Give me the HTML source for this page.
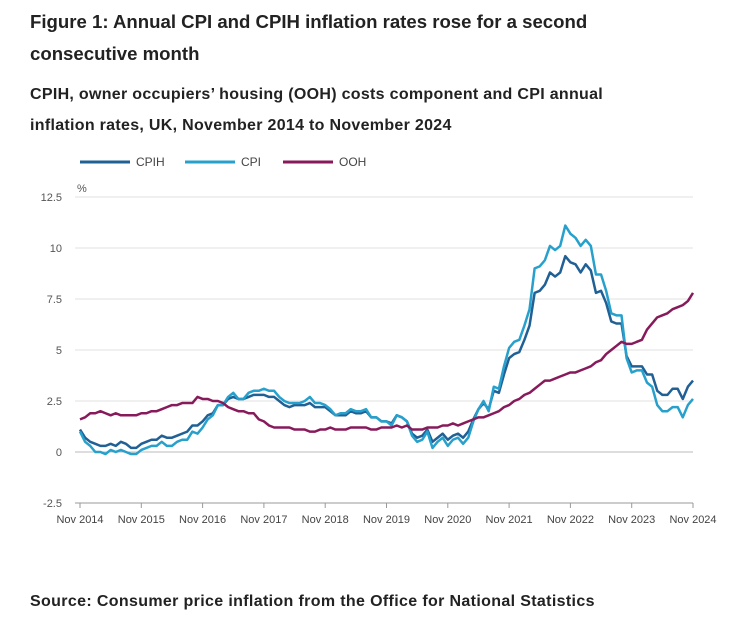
<!DOCTYPE html>
<html><head><meta charset="utf-8"><style>
body{margin:0;width:749px;height:617px;background:#fff;font-family:"Liberation Sans",sans-serif;color:#222;overflow:hidden;position:relative}
.t{position:absolute;left:30px;font-weight:bold;margin:0}
</style></head><body>
<h1 class="t" style="top:6px;font-size:18.6px;line-height:32px;width:595px;letter-spacing:0px">Figure 1: Annual CPI and CPIH inflation rates rose for a second consecutive month</h1>
<h2 class="t" style="top:79px;font-size:16px;line-height:31px;width:580px;letter-spacing:0.3px">CPIH, owner occupiers’ housing (OOH) costs component and CPI annual inflation rates, UK, November 2014 to November 2024</h2>
<svg id="c" width="749" height="617" style="position:absolute;left:0;top:0;font-family:'Liberation Sans',sans-serif"></svg>
<p class="t" style="top:593px;font-size:16px;letter-spacing:0.35px">Source: Consumer price inflation from the Office for National Statistics</p>
<script>
const xLabels=["Nov 2014","Nov 2015","Nov 2016","Nov 2017","Nov 2018","Nov 2019","Nov 2020","Nov 2021","Nov 2022","Nov 2023","Nov 2024"];
const yTicks=[-2.5,0,2.5,5,7.5,10,12.5];
const cpih=[1.1,0.7,0.5,0.4,0.3,0.3,0.4,0.3,0.5,0.4,0.2,0.2,0.4,0.5,0.6,0.6,0.8,0.7,0.7,0.8,0.9,1.0,1.3,1.3,1.5,1.8,1.9,2.3,2.3,2.6,2.7,2.6,2.6,2.7,2.8,2.8,2.8,2.7,2.7,2.5,2.3,2.2,2.3,2.3,2.3,2.4,2.2,2.2,2.2,2.0,1.8,1.8,1.8,2.0,1.9,1.9,2.0,1.7,1.7,1.5,1.5,1.4,1.8,1.7,1.5,0.9,0.7,0.8,1.1,0.5,0.7,0.9,0.6,0.8,0.9,0.7,1.0,1.6,2.1,2.4,2.1,3.0,2.9,3.8,4.6,4.8,4.9,5.5,6.2,7.8,7.9,8.2,8.8,8.6,8.8,9.6,9.3,9.2,8.8,9.2,8.9,7.8,7.9,7.3,6.4,6.3,6.3,4.7,4.2,4.2,4.2,3.8,3.8,3.0,2.8,2.8,3.1,3.1,2.6,3.2,3.5];
const cpi=[1.0,0.5,0.3,0.0,0.0,-0.1,0.1,0.0,0.1,0.0,-0.1,-0.1,0.1,0.2,0.3,0.3,0.5,0.3,0.3,0.5,0.6,0.6,1.0,0.9,1.2,1.6,1.8,2.3,2.3,2.7,2.9,2.6,2.6,2.9,3.0,3.0,3.1,3.0,3.0,2.7,2.5,2.4,2.4,2.4,2.5,2.7,2.4,2.4,2.3,2.1,1.8,1.9,1.9,2.1,2.0,2.0,2.1,1.7,1.7,1.5,1.5,1.3,1.8,1.7,1.5,0.8,0.5,0.6,1.0,0.2,0.5,0.7,0.3,0.6,0.7,0.4,0.7,1.5,2.1,2.5,2.0,3.2,3.1,4.2,5.1,5.4,5.5,6.2,7.0,9.0,9.1,9.4,10.1,9.9,10.1,11.1,10.7,10.5,10.1,10.4,10.1,8.7,8.7,7.9,6.8,6.7,6.7,4.6,3.9,4.0,4.0,3.4,3.2,2.3,2.0,2.0,2.2,2.2,1.7,2.3,2.6];
const ooh=[1.6,1.7,1.9,1.9,2.0,1.9,1.8,1.9,1.8,1.8,1.8,1.8,1.9,1.9,2.0,2.0,2.1,2.2,2.3,2.3,2.4,2.4,2.4,2.7,2.6,2.6,2.5,2.5,2.4,2.2,2.1,2.0,2.0,1.9,1.9,1.6,1.5,1.3,1.2,1.2,1.2,1.2,1.1,1.1,1.1,1.0,1.0,1.1,1.1,1.2,1.1,1.1,1.1,1.2,1.2,1.2,1.2,1.1,1.1,1.2,1.2,1.2,1.3,1.2,1.3,1.1,1.1,1.1,1.2,1.2,1.2,1.3,1.3,1.4,1.3,1.4,1.5,1.6,1.7,1.7,1.8,1.9,2.0,2.2,2.3,2.5,2.6,2.8,2.9,3.1,3.3,3.5,3.5,3.6,3.7,3.8,3.9,3.9,4.0,4.1,4.2,4.4,4.5,4.8,5.0,5.2,5.4,5.3,5.3,5.4,5.5,6.0,6.3,6.6,6.7,6.8,7.0,7.1,7.2,7.4,7.8];
const series=[{n:"CPIH",c:"#206095",d:cpih},{n:"CPI",c:"#27a0cc",d:cpi},{n:"OOH",c:"#871a5b",d:ooh}];
const NS="http://www.w3.org/2000/svg",svg=document.getElementById('c');
const x0=80,x1=693,y=v=>452-v*20.4,x=i=>x0+(x1-x0)*i/120;
function mk(t,a,p){const e=document.createElementNS(NS,t);for(const k in a)e.setAttribute(k,a[k]);(p||svg).appendChild(e);return e;}
yTicks.forEach(v=>{
 const l=mk('line',{x1:75,x2:693,y1:y(v),y2:y(v),stroke:v===0?'#bbb':'#e2e2e2','stroke-width':1});
 
 
 const t=mk('text',{x:62,y:y(v)+4,'text-anchor':'end','font-size':11,fill:'#555'});t.textContent=String(v);
 
 
});
const pc=mk('text',{x:77,y:192,'font-size':11,fill:'#555'});pc.textContent='%';


xLabels.forEach((s,i)=>{
 const xi=x(i*12);
 const tk=mk('line',{x1:xi,x2:xi,y1:503,y2:508,stroke:'#999'});
 
 
 const t=mk('text',{x:xi,y:523,'text-anchor':'middle','font-size':11,fill:'#444'});t.textContent=s;
 
 
});
const ax=mk('line',{x1:75,x2:693,y1:503,y2:503,stroke:'#999'});


series.forEach((s,k)=>{
 const p=mk('polyline',{points:s.d.map((v,i)=>x(i)+','+y(v)).join(' '),fill:'none',stroke:s.c,'stroke-width':2.5,'stroke-linejoin':'round'});
 
 
 const lx=[80,185,283][k];
 const g=mk('g',{});
 
 
 mk('line',{x1:lx,x2:lx+50,y1:162,y2:162,stroke:s.c,'stroke-width':3},g);
 const t=mk('text',{x:lx+56,y:166,'font-size':12,fill:'#444'},g);t.textContent=s.n;
});
</script>
</body></html>
